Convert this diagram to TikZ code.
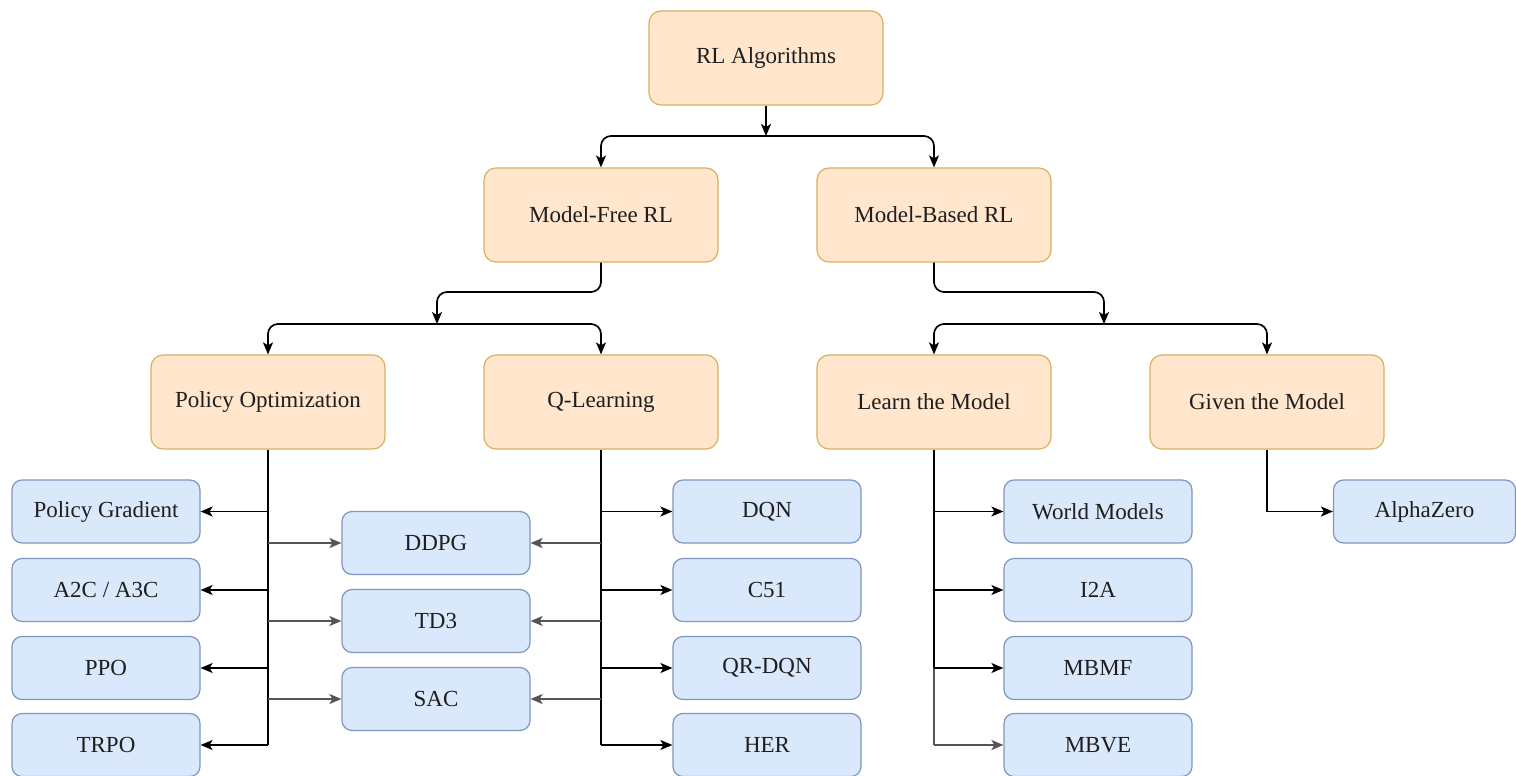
\documentclass[tikz,border=0pt]{standalone}
\usepackage{fontspec}
\setmainfont{Liberation Serif}
\usetikzlibrary{arrows.meta}
\definecolor{ofill}{HTML}{FFE6CC}
\definecolor{odraw}{HTML}{D9B060}
\definecolor{bfill}{HTML}{DAE8FC}
\definecolor{bdraw}{HTML}{7F97BD}
\definecolor{txt}{HTML}{1E1E1E}
\definecolor{garr}{HTML}{555555}
\begin{document}
\begin{tikzpicture}[x=1pt,y=-1pt,
  obox/.style={draw=odraw,fill=ofill,line width=1.2pt,rounded corners=12pt,minimum width=234pt,minimum height=94pt,inner sep=0pt,text=txt,font=\fontsize{23}{27}\selectfont},
  bbox/.style={draw=bdraw,fill=bfill,line width=1.2pt,rounded corners=10pt,minimum width=188pt,minimum height=63pt,inner sep=0pt,text=txt,font=\fontsize{23}{27}\selectfont},
  link/.style={line width=1.7pt,draw=black},
  arr/.style={link,-{Stealth[length=12pt,width=10pt,inset=3pt]}},
  garrow/.style={arr,draw=garr,color=garr},
]
\useasboundingbox (0,0) rectangle (1516,776);
\fill[white] (0,0) rectangle (1516,776);

% orange nodes
\node[obox] (rl) at (766,58) {RL Algorithms};
\node[obox] (mf) at (601,215) {Model-Free RL};
\node[obox] (mb) at (934,215) {Model-Based RL};
\node[obox] (po) at (268,402) {Policy Optimization};
\node[obox] (ql) at (601,402) {Q-Learning};
\node[obox] (lm) at (934,402) {Learn the Model};
\node[obox] (gm) at (1267,402) {Given the Model};

% blue nodes
\node[bbox] (pg)   at (106,511.5) {Policy Gradient};
\node[bbox] (a2c)  at (106,590) {A2C / A3C};
\node[bbox] (ppo)  at (106,668) {PPO};
\node[bbox] (trpo) at (106,745) {TRPO};
\node[bbox] (ddpg) at (436,543) {DDPG};
\node[bbox] (td3)  at (436,621) {TD3};
\node[bbox] (sac)  at (436,699) {SAC};
\node[bbox] (dqn)  at (767,511.5) {DQN};
\node[bbox] (c51)  at (767,590) {C51};
\node[bbox] (qrdqn) at (767,668) {QR-DQN};
\node[bbox] (her)  at (767,745) {HER};
\node[bbox] (wm)   at (1098,511.5) {World Models};
\node[bbox] (i2a)  at (1098,590) {I2A};
\node[bbox] (mbmf) at (1098,668) {MBMF};
\node[bbox] (mbve) at (1098,745) {MBVE};
\node[bbox,minimum width=182pt] (az) at (1424.5,511.5) {AlphaZero};

% junctions
\coordinate (j1) at (766,136);
\coordinate (k2) at (0,292);
\coordinate (j2) at (437,324);
\coordinate (j3) at (1104,324);

% top level
\draw[arr] (rl.south) -- (j1);
\draw[arr,rounded corners=10pt] (j1) -| (mf.north);
\draw[arr,rounded corners=10pt] (j1) -| (mb.north);

% model-free
\draw[arr,rounded corners=10pt] (mf.south) |- (j2 |- k2) -- (j2);
\draw[arr,rounded corners=10pt] (j2) -| (po.north);
\draw[arr,rounded corners=10pt] (j2) -| (ql.north);

% model-based
\draw[arr,rounded corners=10pt] (mb.south) |- (j3 |- k2) -- (j3);
\draw[arr,rounded corners=10pt] (j3) -| (lm.north);
\draw[arr,rounded corners=10pt] (j3) -| (gm.north);

% policy optimization
\draw[link] (po.south) -- (po.south |- trpo.east);
\foreach \n in {pg,a2c,ppo,trpo} \draw[arr] (po.south |- \n.east) -- (\n.east);
\foreach \n in {ddpg,td3,sac} \draw[garrow] (po.south |- \n.west) -- (\n.west);

% q-learning
\draw[link] (ql.south) -- (ql.south |- her.west);
\foreach \n in {dqn,c51,qrdqn,her} \draw[arr] (ql.south |- \n.west) -- (\n.west);
\foreach \n in {ddpg,td3,sac} \draw[garrow] (ql.south |- \n.east) -- (\n.east);

% learn the model
\draw[link] (lm.south) -- (lm.south |- mbmf.west);
\draw[link,draw=garr] (lm.south |- mbmf.west) -- (lm.south |- mbve.west);
\foreach \n in {wm,i2a,mbmf} \draw[arr] (lm.south |- \n.west) -- (\n.west);
\draw[garrow] (lm.south |- mbve.west) -- (mbve.west);

% given the model
\draw[arr] (gm.south) |- (az.west);
\end{tikzpicture}
\end{document}
